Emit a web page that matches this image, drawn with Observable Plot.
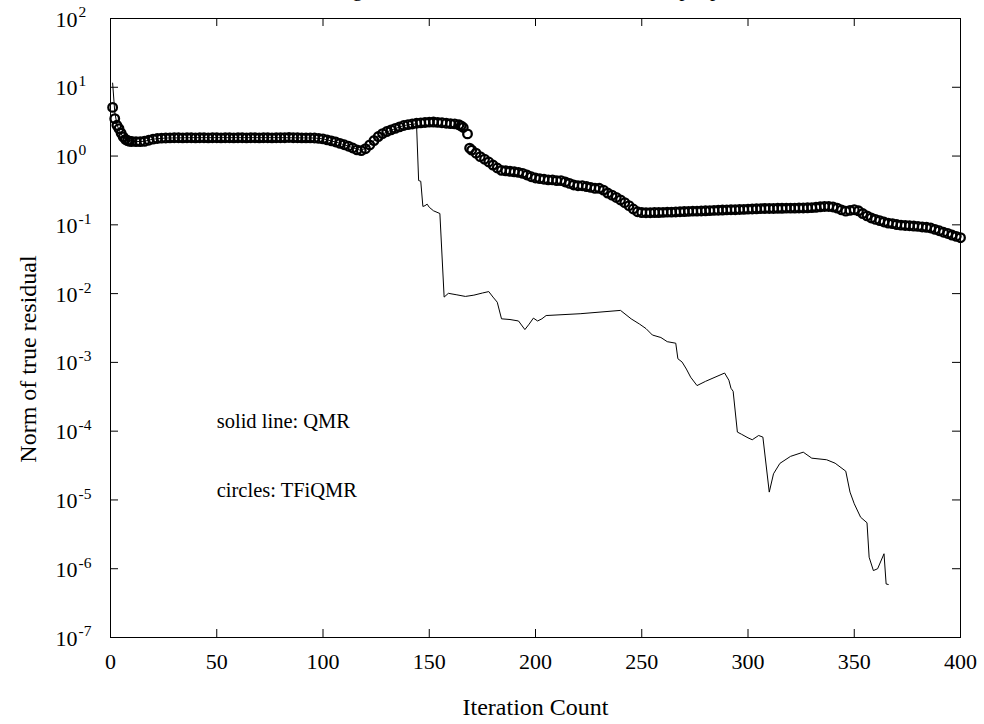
<!DOCTYPE html>
<html>
<head>
<meta charset="utf-8">
<script src="https://cdn.jsdelivr.net/npm/d3@7"></script>
<script src="https://cdn.jsdelivr.net/npm/@observablehq/plot@0.6"></script>
<style>
  html, body { margin: 0; padding: 0; background: #fff; }
  #chart { width: 984px; height: 724px; overflow: hidden; }
</style>
</head>
<body>
<div id="chart"></div>
<script>
// ---- data ----
const titleText = "Convergence of QMR and TFiQMR for a sample problem";
const xLabel = "Iteration Count";
const yLabel = "Norm of true residual";
const xTicks = [0, 50, 100, 150, 200, 250, 300, 350, 400];
const yExponents = [2, 1, 0, -1, -2, -3, -4, -5, -6, -7];
const legendLines = ["solid line: QMR", "circles: TFiQMR"];

// QMR: [iteration, norm of true residual]
const qmr = [
  [1, 11.5], [2, 4.4], [3, 2.9], [4, 2.4], [5, 2.1], [6, 1.9], [8, 1.7], [12, 1.62], [16, 1.64],
  [20, 1.76], [26, 1.83], [40, 1.85], [60, 1.85], [80, 1.85], [96, 1.83], [100, 1.78], [106, 1.6],
  [112, 1.39], [118, 1.2], [122, 1.45], [126, 1.95], [132, 2.38], [138, 2.78], [144, 2.95],
  [145, 0.44], [146, 0.43], [147, 0.185], [148, 0.19], [149, 0.2], [150, 0.18], [152, 0.16],
  [155, 0.146], [157, 0.0089], [159, 0.0101], [163, 0.0096], [167, 0.0091], [171, 0.0095],
  [175, 0.0102], [178, 0.0107], [180, 0.0089], [182, 0.0075], [184, 0.0043], [188, 0.0042],
  [192, 0.0040], [195, 0.0030], [197, 0.0036], [199, 0.0044], [201, 0.0040], [203, 0.0043],
  [205, 0.0048], [221, 0.0051], [240, 0.0057], [245, 0.0043], [249, 0.0036], [252, 0.0031],
  [255, 0.0025], [259, 0.0023], [262, 0.0020], [266, 0.0019], [267, 0.00113], [269, 0.00101],
  [271, 0.0008], [273, 6.1e-4], [276, 4.6e-4], [280, 5.3e-4], [284, 6.0e-4], [289, 7.0e-4],
  [291, 5.5e-4], [292, 4.2e-4], [293, 3.8e-4], [295, 9.7e-5], [297, 9.0e-5], [300, 8.0e-5],
  [302, 7.5e-5], [305, 8.65e-5], [307, 8.2e-5], [310, 1.3e-5], [312, 2.4e-5], [315, 3.4e-5],
  [320, 4.3e-5], [326, 4.95e-5], [330, 4.05e-5], [337, 3.84e-5], [341, 3.42e-5], [346, 2.62e-5],
  [348, 1.3e-5], [350, 8.8e-6], [353, 5.6e-6], [356, 4.66e-6], [357, 1.47e-6], [359, 9.4e-7],
  [361, 1.0e-6], [364, 1.65e-6], [365, 6.0e-7], [366, 5.9e-7]
];

// TFiQMR: [iteration, norm of true residual]
const tfiqmr = [
  [1,5.1],[2,3.5],[3,2.8],[4,2.5],[5,2.15],[6,1.9],[7,1.75],[8,1.68],[9,1.64],[10,1.63],
  [12,1.62],[14,1.62],[16,1.64],[18,1.7],[20,1.76],[22,1.8],[24,1.82],[26,1.83],[28,1.84],[30,1.85],
  [32,1.85],[34,1.84],[36,1.85],[38,1.85],[40,1.84],[42,1.85],[44,1.85],[46,1.84],[48,1.85],[50,1.85],
  [52,1.84],[54,1.85],[56,1.85],[58,1.84],[60,1.85],[62,1.85],[64,1.84],[66,1.85],[68,1.85],[70,1.84],
  [72,1.85],[74,1.85],[76,1.84],[78,1.85],[80,1.85],[82,1.85],[84,1.86],[86,1.85],[88,1.85],[90,1.84],
  [92,1.84],[94,1.84],[96,1.83],[98,1.81],[100,1.78],[102,1.72],[104,1.66],[106,1.6],[108,1.53],[110,1.46],
  [112,1.39],[114,1.31],[116,1.23],[118,1.2],[120,1.28],[122,1.45],[124,1.68],[126,1.92],[128,2.12],[130,2.27],
  [132,2.4],[134,2.53],[136,2.66],[138,2.78],[140,2.86],[142,2.93],[144,3.0],[146,3.04],[148,3.08],[150,3.11],
  [152,3.12],[154,3.09],[156,3.05],[158,3.0],[160,2.96],[162,2.94],[164,2.85],[165,2.75],[166,2.6],[168,2.1],
  [169,1.3],[170,1.22],[172,1.1],[174,0.98],[176,0.9],[178,0.82],[180,0.74],[182,0.67],[184,0.62],[186,0.61],
  [188,0.6],[190,0.59],[192,0.58],[194,0.56],[196,0.53],[198,0.5],[200,0.48],[202,0.47],[204,0.46],[206,0.45],
  [208,0.45],[210,0.44],[212,0.44],[214,0.42],[216,0.4],[218,0.38],[220,0.37],[222,0.37],[224,0.36],[226,0.35],
  [228,0.34],[230,0.34],[232,0.32],[234,0.29],[236,0.27],[238,0.25],[240,0.23],[242,0.21],[244,0.19],[246,0.17],
  [248,0.155],[250,0.151],[252,0.15],[254,0.15],[256,0.151],[258,0.151],[260,0.152],[262,0.153],[264,0.153],[266,0.154],
  [268,0.155],[270,0.156],[272,0.157],[274,0.158],[276,0.158],[278,0.159],[280,0.16],[282,0.161],[284,0.162],[286,0.163],
  [288,0.164],[290,0.165],[292,0.166],[294,0.166],[296,0.167],[298,0.168],[300,0.169],[302,0.17],[304,0.171],[306,0.172],
  [308,0.173],[310,0.173],[312,0.173],[314,0.174],[316,0.174],[318,0.175],[320,0.175],[322,0.175],[324,0.176],[326,0.176],
  [328,0.177],[330,0.178],[332,0.18],[334,0.183],[336,0.185],[338,0.185],[340,0.182],[342,0.175],[344,0.165],[346,0.158],
  [348,0.162],[350,0.166],[352,0.16],[354,0.146],[356,0.135],[358,0.126],[360,0.12],[362,0.115],[364,0.11],[366,0.106],
  [368,0.104],[370,0.101],[372,0.099],[374,0.098],[376,0.097],[378,0.096],[380,0.095],[382,0.093],[384,0.092],[386,0.09],
  [388,0.086],[390,0.082],[392,0.078],[394,0.075],[396,0.071],[398,0.068],[400,0.065]
];

// ---- chart ----
const W = 984, H = 724;
const mL = 110, mR = 24, mT = 18, mB = 87;
const frameW = W - mL - mR, frameH = H - mT - mB;
const tickLen = 8;
const ink = "black";

const chart = Plot.plot({
  width: W,
  height: H,
  marginLeft: mL,
  marginRight: mR,
  marginTop: mT,
  marginBottom: mB,
  style: { fontFamily: "'Liberation Serif', 'Times New Roman', serif", background: "white", color: ink, overflow: "visible" },
  x: { domain: [0, 400], axis: null },
  y: { type: "log", domain: [1e-7, 1e2], axis: null },
  marks: [
    Plot.frame({ stroke: ink, strokeWidth: 1 }),
    // inward ticks: bottom & top
    Plot.tickX(xTicks, { x: d => d, insetTop: frameH - tickLen, stroke: ink }),
    Plot.tickX(xTicks, { x: d => d, insetBottom: frameH - tickLen, stroke: ink }),
    // inward ticks: left & right
    Plot.tickY(yExponents, { y: d => 10 ** d, insetRight: frameW - tickLen, stroke: ink }),
    Plot.tickY(yExponents, { y: d => 10 ** d, insetLeft: frameW - tickLen, stroke: ink }),
    // x tick labels
    Plot.text(xTicks, { x: d => d, frameAnchor: "bottom", lineAnchor: "middle", dy: 24, text: d => String(d), fontSize: 22, fill: ink }),
    // y tick labels: base and exponent
    Plot.text(yExponents, { y: d => 10 ** d, frameAnchor: "left", lineAnchor: "middle", text: () => "10", textAnchor: "start", dx: -55, dy: 1, fontSize: 22, fill: ink }),
    Plot.text(yExponents, { y: d => 10 ** d, frameAnchor: "left", lineAnchor: "middle", text: d => String(d), textAnchor: "start", dx: -32, dy: -6, fontSize: 15.5, fill: ink }),
    // axis titles
    Plot.text([xLabel], { frameAnchor: "bottom", lineAnchor: "middle", textAnchor: "middle", dy: 70, text: d => d, fontSize: 24, fill: ink }),
    Plot.text([yLabel], { frameAnchor: "left", lineAnchor: "middle", textAnchor: "middle", dx: -82, dy: 31, rotate: -90, text: d => d, fontSize: 24, fill: ink }),
    // title (cut off at the top edge, as in the reference)
    Plot.text([titleText], { frameAnchor: "top", lineAnchor: "middle", textAnchor: "middle", dy: -29, text: d => d, fontSize: 21, fill: ink }),
    // legend notes
    Plot.text([legendLines[0]], { x: () => 50, y: () => 1.4e-4, text: d => d, textAnchor: "start", lineAnchor: "middle", fontSize: 20.5, fill: ink }),
    Plot.text([legendLines[1]], { x: () => 50, y: () => 1.37e-5, text: d => d, textAnchor: "start", lineAnchor: "middle", fontSize: 20.5, fill: ink }),
    // data
    Plot.dot(tfiqmr, { x: d => d[0], y: d => d[1], r: 4.3, stroke: ink, fill: "none", strokeWidth: 2.3 }),
    Plot.line(qmr, { x: d => d[0], y: d => d[1], stroke: ink, strokeWidth: 1 })
  ]
});
document.getElementById("chart").appendChild(chart);
</script>
</body>
</html>
